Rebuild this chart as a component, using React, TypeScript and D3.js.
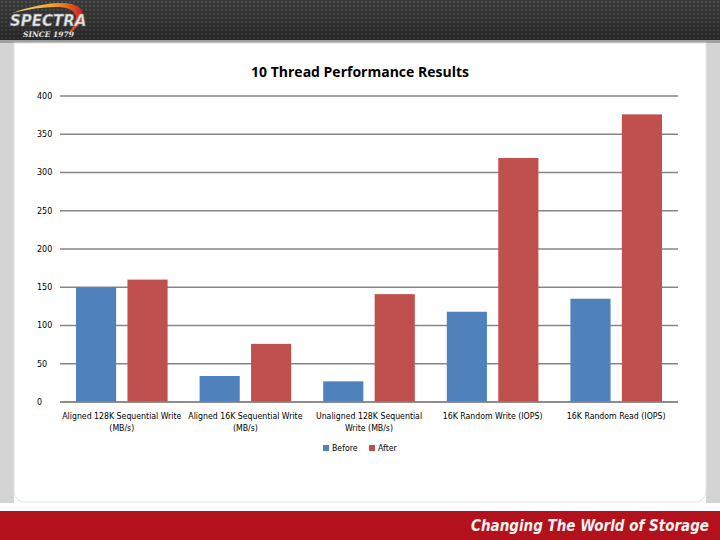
import React, { useEffect, useRef } from 'react';
import * as d3 from 'd3';

const categories = [
  'Aligned 128K Sequential Write\n(MB/s)',
  'Aligned 16K Sequential Write\n(MB/s)',
  'Unaligned 128K Sequential\nWrite (MB/s)',
  '16K Random Write (IOPS)',
  '16K Random Read (IOPS)',
];
const seriesNames = ['Before', 'After'];
const before = [150, 34, 27, 118, 135];
const after = [160, 76, 141, 319, 376];
const yTicks = [0, 50, 100, 150, 200, 250, 300, 350, 400];
const colors = ['#4F81BD', '#C0504D'];

function App() {
  const svgRef = useRef<SVGSVGElement>(null);

  useEffect(() => {
    const W = 720, H = 540;
    const svg = d3.select(svgRef.current);
    svg.selectAll('*').remove();

    const defs = svg.append('defs');
    const pat = defs.append('pattern')
      .attr('id', 'mesh').attr('width', 4).attr('height', 4)
      .attr('patternUnits', 'userSpaceOnUse');
    pat.append('rect').attr('width', 4).attr('height', 4).attr('fill', '#3a3a3a');
    pat.append('circle').attr('cx', 2).attr('cy', 2).attr('r', 1.1).attr('fill', '#555');

    const hg = defs.append('linearGradient').attr('id', 'hdrshade')
      .attr('x1', 0).attr('x2', 0).attr('y1', 0).attr('y2', 1);
    hg.append('stop').attr('offset', '0%').attr('stop-color', '#000').attr('stop-opacity', 0);
    hg.append('stop').attr('offset', '100%').attr('stop-color', '#000').attr('stop-opacity', 0.35);

    const arc = defs.append('linearGradient').attr('id', 'swoosh')
      .attr('x1', 0).attr('x2', 1).attr('y1', 0).attr('y2', 0);
    arc.append('stop').attr('offset', '0%').attr('stop-color', '#f5e08a');
    arc.append('stop').attr('offset', '60%').attr('stop-color', '#f0a020');
    arc.append('stop').attr('offset', '100%').attr('stop-color', '#d21f1f');

    // page background
    svg.append('rect').attr('width', W).attr('height', H).attr('fill', '#ffffff');
    svg.append('rect').attr('y', 38).attr('width', W).attr('height', 474).attr('fill', '#d4d4d4');
    svg.append('rect').attr('x', 14).attr('y', 38).attr('width', 692).attr('height', 474).attr('fill', '#ffffff');

    // header
    svg.append('rect').attr('width', W).attr('height', 40).attr('fill', 'url(#mesh)');
    svg.append('rect').attr('width', W).attr('height', 40).attr('fill', 'url(#hdrshade)');
    svg.append('rect').attr('y', 40).attr('width', W).attr('height', 3).attr('fill', '#a0a0a0');

    // panel
    svg.append('path')
      .attr('d', 'M14,43 L706,43 L706,490 Q706,502 694,502 L26,502 Q14,502 14,490 Z')
      .attr('fill', '#ffffff').attr('stroke', '#e4e4e4');
    svg.append('rect').attr('x', 0).attr('y', 503).attr('width', W).attr('height', 8).attr('fill', '#ffffff');

    // logo
    svg.append('path')
      .attr('d', 'M12,13 Q50,0 72,4 Q86,8 82,20 Q78,28 68,34 Q76,24 76,16 Q74,8 60,7 Q40,6 12,13 Z')
      .attr('fill', 'url(#swoosh)');
    svg.append('text').attr('x', 10).attr('y', 26)
      .style('font-family', 'DejaVu Sans').style('font-weight', 'bold').style('font-style', 'italic')
      .style('font-size', '15px').attr('fill', '#e8e8e8').attr('stroke', '#777').attr('stroke-width', 0.5)
      .text('SPECTRA');
    svg.append('text').attr('x', 23).attr('y', 37)
      .style('font-family', 'DejaVu Serif').style('font-style', 'italic').style('font-weight', 'bold')
      .style('font-size', '7.5px').attr('fill', '#e6e6e6')
      .text('SINCE 1979');

    // footer
    svg.append('rect').attr('y', 511).attr('width', W).attr('height', 29).attr('fill', '#b3121c');
    svg.append('text').attr('x', 709).attr('y', 531).attr('text-anchor', 'end')
      .style('font-family', 'DejaVu Sans Condensed, DejaVu Sans').style('font-weight', 'bold')
      .style('font-style', 'italic').style('font-size', '15px').attr('fill', '#f2f2f2')
      .text('Changing The World of Storage');

    // chart
    const x0 = d3.scaleBand().domain(categories).range([60, 678]).paddingInner(0).paddingOuter(0);
    const x1 = d3.scaleBand().domain(seriesNames).range([16, x0.bandwidth() - 16]).paddingInner(0.22);
    const y = d3.scaleLinear().domain([0, 400]).range([402, 96]);

    svg.append('text').attr('x', 360).attr('y', 77).attr('text-anchor', 'middle')
      .style('font-family', 'Open Sans, DejaVu Sans').style('font-weight', 'bold').style('font-size', '14px')
      .attr('fill', '#000').text('10 Thread Performance Results');

    const grid = svg.append('g');
    yTicks.forEach(t => {
      grid.append('line').attr('x1', 60).attr('x2', 678).attr('y1', y(t)).attr('y2', y(t))
        .attr('stroke', '#868686').attr('stroke-width', 1.5);
      grid.append('text').attr('x', 37).attr('y', y(t)).attr('dy', '0.35em')
        .style('font-family', 'DejaVu Sans').style('font-size', '8px').attr('fill', '#000')
        .text(t);
    });

    const vals = [before, after];
    const bars = svg.append('g');
    categories.forEach((c, i) => {
      seriesNames.forEach((s, k) => {
        const v = vals[k][i];
        bars.append('rect')
          .attr('x', (x0(c) || 0) + (x1(s) || 0))
          .attr('y', y(v))
          .attr('width', x1.bandwidth())
          .attr('height', y(0) - y(v))
          .attr('fill', colors[k]);
      });
    });
    // baseline on top
    svg.append('line').attr('x1', 60).attr('x2', 678).attr('y1', y(0)).attr('y2', y(0))
      .attr('stroke', '#868686').attr('stroke-width', 1.5);

    const lab = svg.append('g');
    categories.forEach(c => {
      const lines = c.split('\n');
      const t = lab.append('text').attr('text-anchor', 'middle')
        .style('font-family', 'DejaVu Sans Condensed, DejaVu Sans').style('font-size', '8.7px').attr('fill', '#000');
      lines.forEach((ln, j) => {
        t.append('tspan').attr('x', (x0(c) || 0) + x0.bandwidth() / 2).attr('y', 419 + j * 12).text(ln);
      });
    });

    // legend
    const leg = svg.append('g');
    const lx = [323, 369];
    seriesNames.forEach((s, k) => {
      leg.append('rect').attr('x', lx[k]).attr('y', 445).attr('width', 6).attr('height', 6).attr('fill', colors[k]);
      leg.append('text').attr('x', lx[k] + 9).attr('y', 448).attr('dy', '0.35em')
        .style('font-family', 'DejaVu Sans Condensed, DejaVu Sans').style('font-size', '8.7px').attr('fill', '#000')
        .text(s);
    });
  }, []);

  return (
    <svg ref={svgRef} width={720} height={540}
      style={{ position: 'absolute', left: 0, top: 0, display: 'block' }} />
  );
}

export default App;
